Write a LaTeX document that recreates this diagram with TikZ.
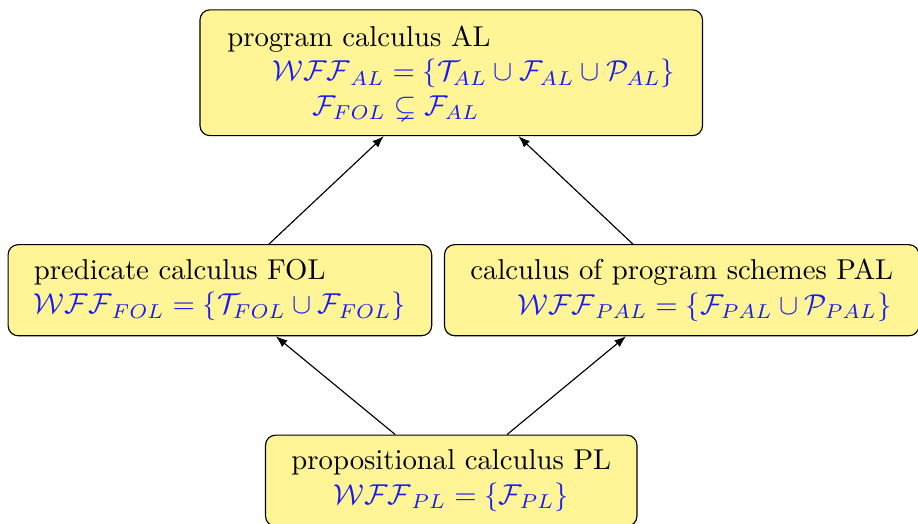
\documentclass[tikz,border=0pt]{standalone}
\usepackage{amsmath,amssymb}
\usepackage{xcolor}
\usepackage{tikz}
\usetikzlibrary{arrows.meta}
\definecolor{calcfill}{RGB}{255,245,150}
\definecolor{wff}{RGB}{25,25,245}

\begin{document}
\begin{tikzpicture}[
  calcbox/.style={draw, rounded corners=3.5pt, fill=calcfill, inner xsep=9pt, minimum height=31.7pt, align=left},
  lift/.style={-{Latex[length=4pt,width=3pt]}, thin}]
\useasboundingbox (0,0) rectangle (11.23,-6.41);
% ---- top: program calculus
\node[calcbox, minimum height=43.8pt, inner xsep=9.5pt] (al) at (5.52,-0.89)
  {program calculus AL\\
   \hspace*{15.7pt}\textcolor{wff}{$\mathcal{WFF}_{AL}=\{\mathcal{T}_{AL}\cup\mathcal{F}_{AL}\cup\mathcal{P}_{AL}\}$}\\
   \hspace*{29.6pt}\textcolor{wff}{$\mathcal{F}_{FOL}\subsetneq\mathcal{F}_{AL}$}};
% ---- middle row
\node[calcbox] (fol) at (2.69,-3.55)
  {predicate calculus FOL\\
   \textcolor{wff}{$\mathcal{WFF}_{FOL}=\{\mathcal{T}_{FOL}\cup\mathcal{F}_{FOL}\}$}};
\node[calcbox] (pal) at (8.34,-3.55)
  {calculus of program schemes PAL\\
   \hspace*{16.4pt}\textcolor{wff}{$\mathcal{WFF}_{PAL}=\{\mathcal{F}_{PAL}\cup\mathcal{P}_{PAL}\}$}};
% ---- bottom: propositional calculus
\node[calcbox, align=center] (pl) at (5.52,-5.88)
  {propositional calculus PL\\
   \textcolor{wff}{$\mathcal{WFF}_{PL}=\{\mathcal{F}_{PL}\}$}};
% ---- extensions
\draw[lift] (fol) -- (al);
\draw[lift] (pal) -- (al);
\draw[lift] (pl) -- (fol);
\draw[lift] (pl) -- (pal);
\end{tikzpicture}
\end{document}
